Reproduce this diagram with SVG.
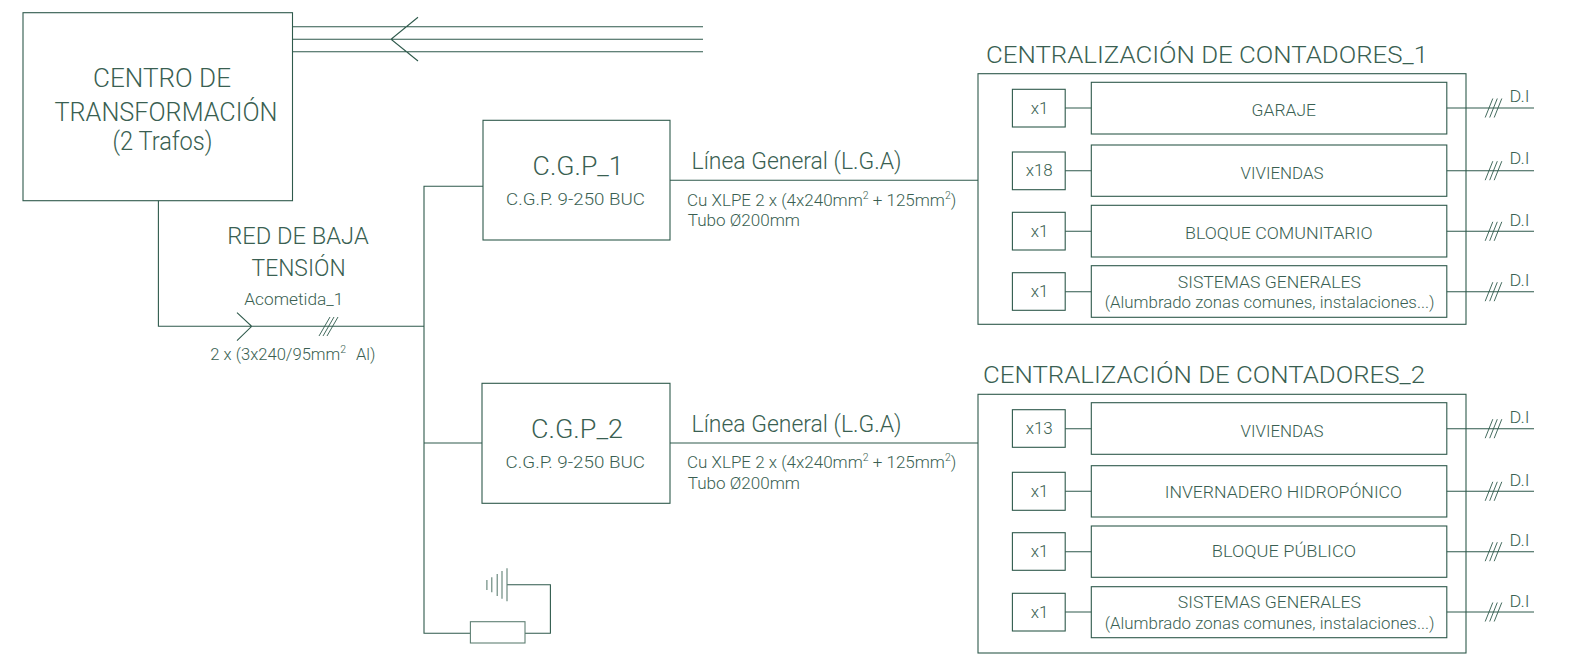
<svg xmlns="http://www.w3.org/2000/svg" width="1573" height="663" viewBox="0 0 1573 663">
<style>
text{font-family:Roboto,"Liberation Sans",sans-serif;font-weight:300;fill:#3a5f52}
.a{font-size:25.5px}.c{font-size:23px}.d{font-size:17px}.e{font-size:16.8px}
rect{fill:none;stroke:#2f5a4c;stroke-width:1.1}
path{fill:none;stroke:#2f5a4c;stroke-width:1.1}
</style>
<rect width="1573" height="663" style="fill:#fff;stroke:none"/>
<defs>
<g id="sl"><path d="M1485.2 117.5L1492.8 98.5M1489.7 117.5L1497.3 98.5M1494.2 117.5L1501.8 98.5" style="stroke-width:.9"/></g>
</defs>
<g id="connectors">
<path d="M292 26.7H703M292 39.3H703M292 51.7H703M418 17.3L391 39.3L418 61"/>
<path d="M158.4 200.7V326.3H424M237 312.7L251.7 326.3L237 340.7"/>
<path d="M319 336L330 317M323 336L334 317M327 336L338 317" style="stroke-width:.9"/>
<path d="M483 186.3H424V633.3H470.4M482 443H424"/>
<path d="M670 180.3H978M670 443H978"/>
<path d="M525 633.3H550.4V584.7H507"/>
<path d="M507 568.3V601.3M502 571V598.7M497.2 574V596M491.8 577.3V592.3M486.9 580V590" style="stroke:#5f8074"/>
<path d="M1065.2 108H1091.3M1446.8 108H1534M1065.2 170.7H1091.3M1446.8 170.7H1534M1065.2 231.3H1091.3M1446.8 231.3H1534M1065.2 291.7H1091.3M1446.8 291.7H1534"/>
<path d="M1065.2 428.7H1091.3M1446.8 428.7H1534M1065.2 491.3H1091.3M1446.8 491.3H1534M1065.2 551.7H1091.3M1446.8 551.7H1534M1065.2 612H1091.3M1446.8 612H1534"/>
<use href="#sl"/>
<use href="#sl" y="62.7"/>
<use href="#sl" y="123.3"/>
<use href="#sl" y="183.7"/>
<use href="#sl" y="320.7"/>
<use href="#sl" y="383.3"/>
<use href="#sl" y="443.7"/>
<use href="#sl" y="504"/>
</g>
<g id="ct"><rect x="23" y="12.7" width="269.5" height="188"/>
<text class="a" x="93" y="87" textLength="138" lengthAdjust="spacingAndGlyphs">CENTRO DE</text>
<text class="a" x="54.5" y="121" textLength="223" lengthAdjust="spacingAndGlyphs">TRANSFORMACIÓN</text>
<text class="a" x="112.5" y="150" textLength="100" lengthAdjust="spacingAndGlyphs">(2 Trafos)</text></g>
<g id="red"><text class="c" x="227.3" y="244.3" textLength="141.4" lengthAdjust="spacingAndGlyphs">RED DE BAJA</text>
<text class="c" x="251.6" y="275.7" textLength="94" lengthAdjust="spacingAndGlyphs">TENSIÓN</text>
<text class="d" x="244.3" y="305" textLength="99" lengthAdjust="spacingAndGlyphs">Acometida_1</text>
<text class="e" x="210.3" y="360" style="font-size:16.6px">2 x (3x240/95mm<tspan font-size="10.5" dy="-7">2</tspan><tspan dy="7" x="356">Al)</tspan></text></g>
<g id="cgp1"><rect x="483" y="120.3" width="187" height="119.7"/>
<text class="a" x="532.6" y="175" textLength="91" lengthAdjust="spacingAndGlyphs">C.G.P_1</text>
<text class="d" x="506" y="205" textLength="139" lengthAdjust="spacingAndGlyphs">C.G.P. 9-250 BUC</text></g>
<g id="cgp2"><rect x="482" y="383.3" width="188" height="120"/>
<text class="a" x="531" y="437.5" textLength="92" lengthAdjust="spacingAndGlyphs">C.G.P_2</text>
<text class="d" x="505.6" y="468.3" textLength="139.4" lengthAdjust="spacingAndGlyphs">C.G.P. 9-250 BUC</text></g>
<g id="lga1"><text class="c" x="691.6" y="168.5" textLength="210" lengthAdjust="spacingAndGlyphs">Línea General (L.G.A)</text>
<text class="d" x="687" y="205.5">Cu XLPE 2 x (4x240mm<tspan font-size="10.5" dy="-7">2</tspan><tspan dy="7"> + 125mm</tspan><tspan font-size="10.5" dy="-7">2</tspan><tspan dy="7">)</tspan></text>
<text class="d" x="687.8" y="226" textLength="112.2" lengthAdjust="spacingAndGlyphs">Tubo Ø200mm</text></g>
<g id="lga2"><text class="c" x="691.6" y="431.5" textLength="210" lengthAdjust="spacingAndGlyphs">Línea General (L.G.A)</text>
<text class="d" x="687" y="468.3">Cu XLPE 2 x (4x240mm<tspan font-size="10.5" dy="-7">2</tspan><tspan dy="7"> + 125mm</tspan><tspan font-size="10.5" dy="-7">2</tspan><tspan dy="7">)</tspan></text>
<text class="d" x="687.8" y="489" textLength="112.2" lengthAdjust="spacingAndGlyphs">Tubo Ø200mm</text></g>
<g id="earth"><rect x="470.4" y="621.7" width="54.6" height="21.3" style="stroke:#5f8074"/></g>
<g id="cc1"><text class="c" x="986" y="62.7" textLength="442" lengthAdjust="spacingAndGlyphs" style="font-size:24px">CENTRALIZACIÓN DE CONTADORES_1</text>
<rect x="978" y="73.7" width="488" height="250.6"/>
<rect x="1012.4" y="89.3" width="52.8" height="37.7"/><text class="d" x="1039.6" y="114" text-anchor="middle">x1</text>
<rect x="1012.4" y="152" width="52.8" height="37.7"/><text class="d" x="1039.2" y="176" text-anchor="middle">x18</text>
<rect x="1012.4" y="212.3" width="52.8" height="37.7"/><text class="d" x="1039.6" y="237.3" text-anchor="middle">x1</text>
<rect x="1012.4" y="272.7" width="52.8" height="37.6"/><text class="d" x="1039.6" y="297.3" text-anchor="middle">x1</text>
<rect x="1091.3" y="82.3" width="355.5" height="51.7"/><text class="d" x="1251.6" y="116.3" textLength="64.4" lengthAdjust="spacingAndGlyphs">GARAJE</text>
<rect x="1091.3" y="145" width="355.5" height="51.3"/><text class="d" x="1240.5" y="179" textLength="83.1" lengthAdjust="spacingAndGlyphs">VIVIENDAS</text>
<rect x="1091.3" y="205.3" width="355.5" height="51.7"/><text class="d" x="1185" y="239" textLength="187.5" lengthAdjust="spacingAndGlyphs">BLOQUE COMUNITARIO</text>
<rect x="1091.3" y="265.7" width="355.5" height="51.6"/><text class="d" x="1177.8" y="288.3" textLength="183.2" lengthAdjust="spacingAndGlyphs">SISTEMAS GENERALES</text>
<text class="d" x="1104.7" y="307.7" textLength="329.8" lengthAdjust="spacingAndGlyphs">(Alumbrado zonas comunes, instalaciones...)</text>
<text class="d" x="1509.5" y="101.7" textLength="20" lengthAdjust="spacingAndGlyphs">D.I</text><text class="d" x="1509.5" y="164.3" textLength="20" lengthAdjust="spacingAndGlyphs">D.I</text><text class="d" x="1509.5" y="225.7" textLength="20" lengthAdjust="spacingAndGlyphs">D.I</text><text class="d" x="1509.5" y="285.7" textLength="20" lengthAdjust="spacingAndGlyphs">D.I</text></g>
<g id="cc2"><text class="c" x="983" y="383.3" textLength="442" lengthAdjust="spacingAndGlyphs" style="font-size:24px">CENTRALIZACIÓN DE CONTADORES_2</text>
<rect x="978" y="394.3" width="488" height="258.7"/>
<rect x="1012.4" y="409.7" width="52.8" height="37.6"/><text class="d" x="1039.2" y="434" text-anchor="middle">x13</text>
<rect x="1012.4" y="472.3" width="52.8" height="38"/><text class="d" x="1039.6" y="497" text-anchor="middle">x1</text>
<rect x="1012.4" y="532.7" width="52.8" height="37.6"/><text class="d" x="1039.6" y="557" text-anchor="middle">x1</text>
<rect x="1012.4" y="593.3" width="52.8" height="37.7"/><text class="d" x="1039.6" y="618" text-anchor="middle">x1</text>
<rect x="1091.3" y="402.7" width="355.5" height="51.6"/><text class="d" x="1240.5" y="437" textLength="83.1" lengthAdjust="spacingAndGlyphs">VIVIENDAS</text>
<rect x="1091.3" y="465.7" width="355.5" height="51.3"/><text class="d" x="1164.7" y="497.7" textLength="237.3" lengthAdjust="spacingAndGlyphs">INVERNADERO HIDROPÓNICO</text>
<rect x="1091.3" y="526" width="355.5" height="51.3"/><text class="d" x="1211.8" y="557" textLength="144.2" lengthAdjust="spacingAndGlyphs">BLOQUE PÚBLICO</text>
<rect x="1091.3" y="586.7" width="355.5" height="51"/><text class="d" x="1177.8" y="608.3" textLength="183.2" lengthAdjust="spacingAndGlyphs">SISTEMAS GENERALES</text>
<text class="d" x="1104.7" y="628.7" textLength="329.8" lengthAdjust="spacingAndGlyphs">(Alumbrado zonas comunes, instalaciones...)</text>
<text class="d" x="1509.5" y="422.7" textLength="20" lengthAdjust="spacingAndGlyphs">D.I</text><text class="d" x="1509.5" y="485.7" textLength="20" lengthAdjust="spacingAndGlyphs">D.I</text><text class="d" x="1509.5" y="545.7" textLength="20" lengthAdjust="spacingAndGlyphs">D.I</text><text class="d" x="1509.5" y="606.7" textLength="20" lengthAdjust="spacingAndGlyphs">D.I</text></g>
</svg>
